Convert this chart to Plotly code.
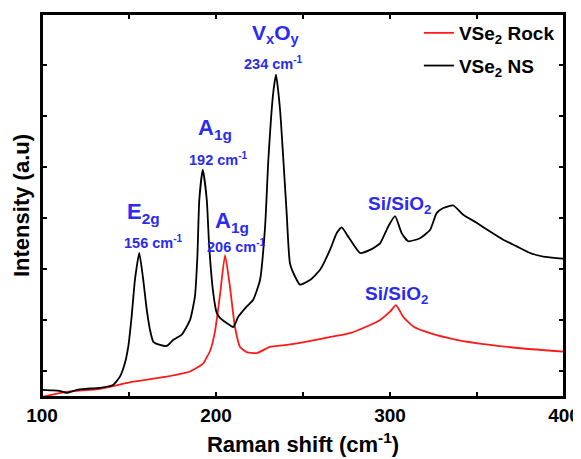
import plotly.graph_objects as go

# VSe2 NS (black) spectrum, Raman shift (cm-1) vs intensity (a.u.)
ns_shift = [100, 105, 110, 114, 120, 125, 133.3, 141, 144.8, 147.7, 149.6, 151.5, 153.4, 155.9,
            158.2, 160.2, 162.1, 164, 167.8, 171.7, 175.5, 180.3, 185.1, 187.9, 189.3, 190.4, 192.4,
            194.7, 196.1, 198.4, 200.4, 202.3, 206.1, 209.9, 212.8, 217.6, 221.3, 225.3, 228.2,
            230.1, 232.9, 234.5, 236.8, 238.7, 240.6, 242.5, 245.4, 248.3, 254, 259.8, 265.5, 269.4,
            272.2, 276, 282.8, 288.5, 294.3, 299, 302.9, 306.7, 310.5, 317.2, 323, 326.8, 330.6,
            336.4, 342.1, 349.8, 357.5, 365.1, 372.8, 380.5, 388.1, 395.8, 399.6]
ns_int = [-36, -37, -38, -42, -36, -34, -32, -26, -10, 17, 49, 107, 179, 232,
          179, 121, 81, 58, 52, 50, 62, 72, 101, 147, 225, 336, 395,
          336, 244, 154, 115, 105, 95, 87, 107, 127, 140, 179, 283,
          415, 546, 581, 513, 415, 311, 212, 186, 170, 179, 199, 238, 271,
          282, 264, 232, 238, 251, 284, 304, 271, 255, 261, 277, 310, 320,
          325, 307, 291, 274, 258, 245, 232, 225, 222, 221]

# VSe2 Rock (red) spectrum
rock_shift = [100, 114, 133.3, 152.5, 171.7, 185.1, 192.7, 194.7, 196.6, 199.4, 202.3, 205.2, 208,
              210.9, 213.8, 217.6, 223.4, 231, 240.6, 248.3, 261.7, 277, 286.6, 294.3, 300, 303.4,
              307.6, 313.4, 323, 338.3, 357.5, 376.6, 399.6]
rock_int = [-50, -40, -34, -20, -10, 0, 16, 28, 40, 78, 150, 228, 166,
            87, 48, 38, 36, 48, 52, 56, 65, 75, 88, 101, 117, 130,
            107, 88, 75, 62, 52, 45, 39]

# x-axis ticks (major every 100 with labels, minor every 50)
x_tick_vals = [100, 150, 200, 250, 300, 350, 400]
x_tick_text = ["100", "", "200", "", "300", "", "400"]
# y-axis ticks (no labels)
y_tick_vals = [0, 100, 200, 300, 400, 500, 600]

# Peak labels: (text, x, y, size)
labels = [
    ("E<sub>2g</sub>", 158.6, 311, 22),
    ("156 cm<sup>-1</sup>", 163.8, 254, 14.5),
    ("A<sub>1g</sub>", 199.4, 474, 22),
    ("192 cm<sup>-1</sup>", 201.7, 417, 14.5),
    ("A<sub>1g</sub>", 209.0, 293, 22),
    ("206 cm<sup>-1</sup>", 212.0, 246, 14.5),
    ("V<sub>x</sub>O<sub>y</sub>", 234.5, 660, 21),
    ("234 cm<sup>-1</sup>", 233.3, 605, 14.5),
    ("Si/SiO<sub>2</sub>", 305.7, 326, 19),
    ("Si/SiO<sub>2</sub>", 304.0, 150, 19),
]

FONT = "Liberation Sans, Arial, sans-serif"
BLUE = "#2b2bf0"
X_RANGE = [100, 400]
Y_RANGE = [-50, 700]

fig = go.Figure()
fig.add_trace(go.Scatter(x=rock_shift, y=rock_int, mode="lines", name="VSe<sub>2</sub> Rock",
                         legendgroup="rock",
                         line=dict(color="#ff1a1a", width=1.8, shape="spline", smoothing=0.5)))
fig.add_trace(go.Scatter(x=ns_shift, y=ns_int, mode="lines", name="VSe<sub>2</sub> NS",
                         legendgroup="ns",
                         line=dict(color="black", width=1.8, shape="spline", smoothing=0.5)))

for text, x, y, size in labels:
    fig.add_annotation(x=x, y=y, xref="x", yref="y", text=text, showarrow=False,
                       font=dict(family=FONT, size=size, color=BLUE, weight="bold"))

# plot frame, drawn as a data-space rectangle on the axis ranges
fig.add_shape(type="rect", xref="x", yref="y", x0=X_RANGE[0], x1=X_RANGE[1],
              y0=Y_RANGE[0], y1=Y_RANGE[1], line=dict(color="black", width=2),
              fillcolor="rgba(0,0,0,0)", layer="above")

axis_common = dict(showgrid=False, zeroline=False, automargin=False,
                   showline=True, linecolor="black", linewidth=2, mirror="allticks",
                   ticks="inside", ticklen=5, tickwidth=1.5, tickcolor="black")

fig.update_layout(
    width=573, height=451,
    margin=dict(l=34, r=17, t=6, b=62),
    plot_bgcolor="rgba(0,0,0,0)", paper_bgcolor="white",
    font=dict(family=FONT, color="black", weight="bold"),
    showlegend=True,
    legend=dict(x=0.722, y=1.0, xanchor="left", yanchor="top", bgcolor="rgba(0,0,0,0)",
                font=dict(family=FONT, size=19, color="black", weight="bold"),
                tracegroupgap=5),
    xaxis=dict(range=X_RANGE, tickvals=x_tick_vals, ticktext=x_tick_text,
               ticklabeloverflow="allow",
               tickfont=dict(family=FONT, size=19, color="black", weight="bold"),
               title=dict(text="Raman shift (cm<sup>-1</sup>)", standoff=12,
                          font=dict(family=FONT, size=22, color="black", weight="bold")),
               **axis_common),
    yaxis=dict(range=Y_RANGE, tickvals=y_tick_vals, showticklabels=False,
               title=dict(text="Intensity (a.u)", standoff=4,
                          font=dict(family=FONT, size=22, color="black", weight="bold")),
               **axis_common),
)

fig.write_html("out.html")
